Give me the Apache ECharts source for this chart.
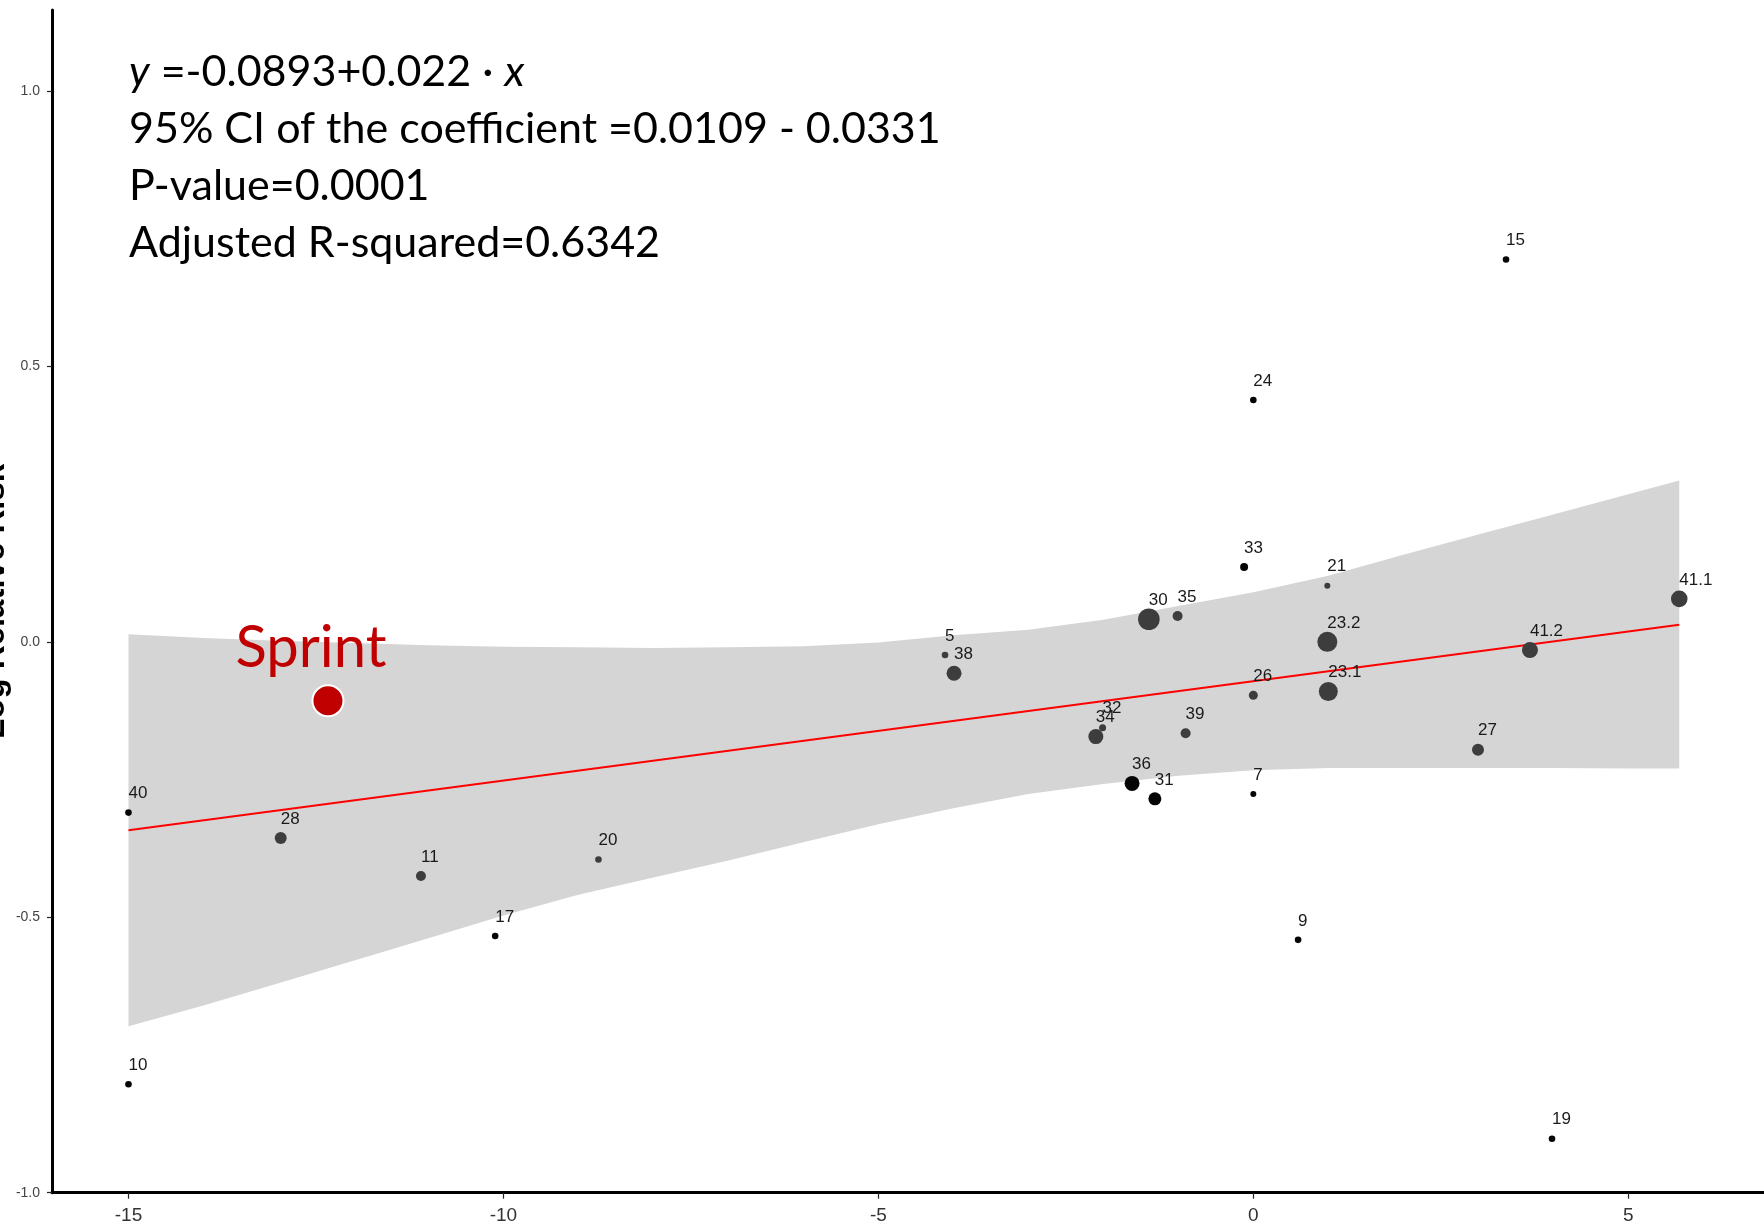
<!DOCTYPE html>
<html><head><meta charset="utf-8">
<script src="https://cdn.jsdelivr.net/npm/echarts@6/dist/echarts.min.js"></script>
<style>html,body{margin:0;padding:0;background:#fff;} #chart{width:1764px;height:1228px;}</style>
</head><body><div id="chart"></div>
<script>
// ---- data ----
const studyLabels = ['40','10','28','11','17','20','5','38','34','32','36','31','30','35','39','26','7','33','24','21','23.2','23.1','9','27','15','41.2','19','41.1'];
const studyX      = [-15, -15, -12.97, -11.10, -10.11, -8.733, -4.111, -3.991, -2.10, -2.01, -1.617, -1.313, -1.393, -1.010, -0.903, 0, 0, -0.123, 0, 0.987, 0.987, 1.0, 0.597, 2.996, 3.37, 3.689, 3.983, 5.68];
const studyY      = [-0.310, -0.803, -0.356, -0.425, -0.534, -0.395, -0.024, -0.057, -0.172, -0.156, -0.257, -0.285, 0.041, 0.047, -0.166, -0.097, -0.276, 0.136, 0.439, 0.102, 0.000, -0.090, -0.541, -0.196, 0.694, -0.015, -0.902, 0.078];
const studyWeight = [3.3, 3.3, 6, 5, 3.3, 3.3, 3.3, 7.5, 7.5, 3.5, 7.5, 6.5, 10.8, 5, 5, 4.5, 3, 4, 3.3, 3, 10, 9.5, 3.3, 6, 3.3, 8, 3.3, 8.3];
const darkStudies = ['40','10','17','36','31','7','33','24','9','15','19'];

const fitLineX = [-15, 5.68];
const fitLineY = [-0.342, 0.031];

const bandX     = [-15, -14, -13, -12, -11, -10, -9, -8, -7, -6, -5, -4, -3, -2, -1, 0, 1, 2, 3, 4, 5, 5.68];
const bandUpper = [0.014, 0.007, 0.002, -0.002, -0.006, -0.009, -0.010, -0.011, -0.010, -0.008, -0.001, 0.012, 0.022, 0.040, 0.065, 0.090, 0.120, 0.158, 0.195, 0.231, 0.268, 0.293];
const bandLower = [-0.698, -0.660, -0.620, -0.579, -0.538, -0.497, -0.459, -0.428, -0.397, -0.364, -0.331, -0.302, -0.276, -0.258, -0.243, -0.233, -0.229, -0.229, -0.229, -0.229, -0.230, -0.230];

const sprintPoint = [-12.34, -0.107];
const sprintLabel = 'Sprint';

const xTicks = [-15, -10, -5, 0, 5];
const yTicks = [-1.0, -0.5, 0.0, 0.5, 1.0];
const yAxisTitle = 'Log Relative Risk';

const annotationLines = [
  '{i|y} =-0.0893+0.022 · {i|x}',
  '95% CI of the coefficient =0.0109 - 0.0331',
  'P-value=0.0001',
  'Adjusted R-squared=0.6342'
];

// ---- chart ----
const narrow = "'Liberation Sans Narrow', 'Liberation Sans', Arial, sans-serif";
const chart = echarts.init(document.getElementById('chart'), null, {renderer: 'canvas'});

const studyData = studyLabels.map((lab, i) => ({
  name: lab,
  value: [studyX[i], studyY[i]],
  symbolSize: studyWeight[i] * 2,
  itemStyle: { color: darkStudies.includes(lab) ? '#050505' : '#3d3d3d', opacity: 1 }
}));
const labelData = studyLabels.map((lab, i) => ({ name: lab, value: [studyX[i], studyY[i]] }));

const annoStyle = { fontFamily: 'Lato', fontSize: 43, fontWeight: 'normal', color: '#000' };

const option = {
  backgroundColor: '#fff',
  animation: false,
  title: annotationLines.map((t, i) => ({
    text: t,
    left: 129,
    top: 51 + i * 57,
    padding: 0,
    textStyle: Object.assign({}, annoStyle, {
      rich: { i: Object.assign({}, annoStyle, { fontStyle: 'italic' }) }
    })
  })),
  grid: { left: 52, right: 0, top: 10, bottom: 35.3, outerBoundsMode: 'none', containLabel: false },
  xAxis: {
    type: 'value', min: -16.02, max: 6.81,
    axisLine: { show: true, onZero: false, lineStyle: { color: '#000', width: 3 } },
    axisTick: { show: true, customValues: xTicks, length: 6, lineStyle: { color: '#222', width: 1.2 } },
    axisLabel: { customValues: xTicks, margin: 14, fontFamily: narrow, fontSize: 19, color: '#333' },
    splitLine: { show: false }
  },
  yAxis: {
    type: 'value', min: -1.0, max: 1.147,
    name: yAxisTitle, nameLocation: 'middle', nameGap: 41, nameMoveOverlap: false,
    nameTextStyle: { fontFamily: "'Liberation Sans', Arial, sans-serif", fontWeight: 'bold', fontSize: 33, color: '#000' },
    axisLine: { show: true, onZero: false, lineStyle: { color: '#000', width: 3 } },
    axisTick: { show: true, customValues: yTicks, length: 5, lineStyle: { color: '#222', width: 1.2 } },
    axisLabel: { customValues: yTicks, margin: 12, fontFamily: "'Liberation Sans', Arial, sans-serif", fontSize: 14, color: '#444',
      formatter: v => Number(v).toFixed(1) },
    splitLine: { show: false }
  },
  series: [
    {
      type: 'custom', silent: true, z: 1,
      renderItem: (params, api) => {
        const pts = [];
        for (let i = 0; i < bandX.length; i++) pts.push(api.coord([bandX[i], bandUpper[i]]));
        for (let i = bandX.length - 1; i >= 0; i--) pts.push(api.coord([bandX[i], bandLower[i]]));
        return { type: 'polygon', shape: { points: pts }, style: { fill: '#d5d5d5' } };
      },
      data: [[bandX[0], bandUpper[0]]],
      encode: { x: 0, y: 1 }
    },
    {
      type: 'line', z: 2, silent: true, symbol: 'none',
      lineStyle: { color: '#ff0000', width: 2 },
      data: fitLineX.map((x, i) => [x, fitLineY[i]])
    },
    {
      type: 'scatter', z: 3, silent: true,
      symbol: 'circle',
      itemStyle: { opacity: 1 },
      data: studyData
    },
    {
      type: 'scatter', z: 4, silent: true,
      symbolSize: 1,
      itemStyle: { color: 'rgba(0,0,0,0)', opacity: 1 },
      label: {
        show: true, formatter: '{b}', position: [0.5, -10], align: 'left', verticalAlign: 'bottom',
        fontFamily: narrow, fontSize: 17, color: '#1a1a1a'
      },
      data: labelData
    },
    {
      type: 'scatter', z: 5, silent: true,
      symbolSize: 31,
      itemStyle: { color: '#c00000', borderColor: '#ffffff', borderWidth: 2, opacity: 1 },
      label: {
        show: true, formatter: sprintLabel, position: 'top', distance: 0, offset: [-17, -7],
        fontFamily: 'Lato', fontSize: 58, color: '#c00000'
      },
      data: [sprintPoint]
    }
  ]
};
chart.setOption(option);
</script>
</body></html>
